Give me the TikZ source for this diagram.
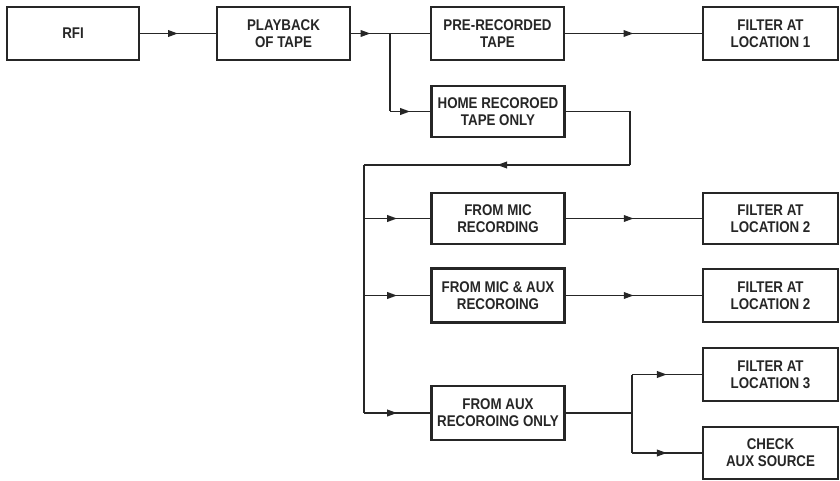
\documentclass[tikz,border=0pt]{standalone}
\usepackage{fontspec}
\setmainfont{Liberation Sans}[FakeStretch=0.86]
\usetikzlibrary{arrows.meta,decorations.markings}
\definecolor{ink}{HTML}{262626}
\tikzset{
  blk/.style={draw=ink, line width=2.3pt, rectangle, align=center, text=ink,
    minimum width=133pt, minimum height=52pt, inner sep=0pt,
    font=\fontsize{15.5pt}{17pt}\selectfont\bfseries},
  wire/.style={draw=ink, line width=1.9pt},
  midarrow/.style={wire, postaction={decorate}, decoration={markings,
    mark=at position 0.5 with {\arrow[ink]{Triangle[length=10pt,width=6.5pt]}}}}
}
\begin{document}
\begin{tikzpicture}[x=1pt,y=-1pt]
\useasboundingbox (0,0) rectangle (840,481);
% boxes
\node[blk, minimum width=132pt, minimum height=53pt] (rfi) at (73,33.5) {RFI};
\node[blk, minimum height=53pt] (play) at (283.5,33.5) {PLAYBACK\\OF TAPE};
\node[blk, minimum height=53pt] (pre) at (497.5,33.5) {PRE-RECORDED\\TAPE};
\node[blk, minimum width=135pt, minimum height=53pt] (f1) at (770.5,33.5) {FILTER AT\\LOCATION 1};
\node[blk, minimum height=51pt] (home) at (498,111.5) {HOME RECOROED\\TAPE ONLY};
\node[blk, minimum height=51pt] (mic) at (498,218.5) {FROM MIC\\RECORDING};
\node[blk, minimum width=135pt, minimum height=51pt] (f2) at (770.5,218.5) {FILTER AT\\LOCATION 2};
\node[blk, minimum height=54pt] (micaux) at (498,295.5) {FROM MIC \& AUX\\RECOROING};
\node[blk, minimum width=135pt, minimum height=53pt] (f2b) at (770.5,295.5) {FILTER AT\\LOCATION 2};
\node[blk, minimum height=54pt] (aux) at (498,413) {FROM AUX\\RECOROING ONLY};
\node[blk, minimum width=135pt, minimum height=53pt] (f3) at (770.5,374.5) {FILTER AT\\LOCATION 3};
\node[blk, minimum width=135pt, minimum height=52pt] (chk) at (770.5,453) {CHECK\\AUX SOURCE};
% junction coordinates
\coordinate (j1) at (390,33.5);
\coordinate (j1b) at (j1 |- home.west);
\coordinate (c1) at (630,165);
\coordinate (c2) at (364,165);
\coordinate (b1) at (c2 |- mic.west);
\coordinate (b2) at (c2 |- micaux.west);
\coordinate (c3) at (c2 |- aux.west);
\coordinate (j3) at (632,413);
\coordinate (j3a) at (j3 |- f3.west);
\coordinate (j3b) at (j3 |- chk.west);
% connectors
\draw[midarrow] (rfi.east) -- (play.west);
\draw[midarrow] (play.east) -- (j1);
\draw[wire] (j1) -- (pre.west);
\draw[midarrow] (pre.east) -- (f1.west);
\draw[wire] (j1) -- (j1b);
\draw[midarrow] (j1b) -- (home.west);
\draw[wire] (home.east) -| (c1);
\draw[midarrow] (c1) -- (c2);
\draw[wire] (c2) -- (c3);
\draw[midarrow] (b1) -- (mic.west);
\draw[midarrow] (b2) -- (micaux.west);
\draw[midarrow] (c3) -- (aux.west);
\draw[midarrow] (mic.east) -- (f2.west);
\draw[midarrow] (micaux.east) -- (f2b.west);
\draw[wire] (aux.east) -- (j3);
\draw[wire] (j3a) -- (j3b);
\draw[midarrow] (j3a) -- (f3.west);
\draw[midarrow] (j3b) -- (chk.west);
\end{tikzpicture}
\end{document}
